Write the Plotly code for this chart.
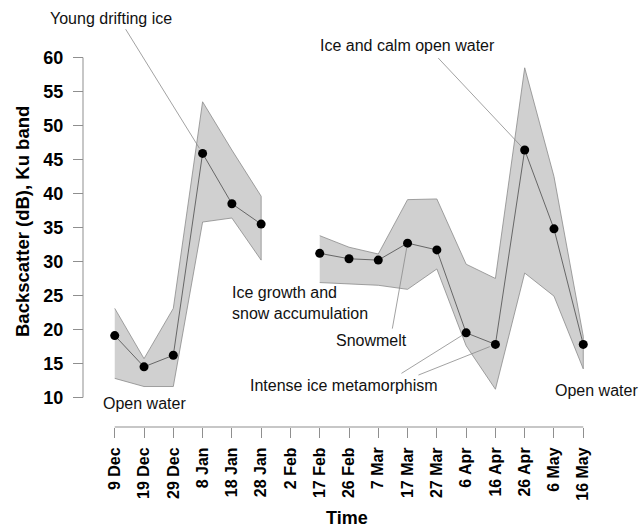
import plotly.graph_objects as go

# ---------------- data ----------------
dates = ['9 Dec', '19 Dec', '29 Dec', '8 Jan', '18 Jan', '28 Jan', '2 Feb', '17 Feb',
         '26 Feb', '7 Mar', '17 Mar', '27 Mar', '6 Apr', '16 Apr', '26 Apr', '6 May', '16 May']
mean_db = [19.1, 14.5, 16.2, 45.9, 38.5, 35.5, None, 31.2,
           30.4, 30.2, 32.7, 31.7, 19.5, 17.8, 46.4, 34.8, 17.8]
upper_db = [23.1, 15.7, 23.1, 53.5, 46.4, 39.6, None, 33.8,
            32.1, 31.1, 39.1, 39.2, 29.6, 27.5, 58.5, 42.5, 19.0]
lower_db = [12.8, 11.6, 11.6, 35.8, 36.4, 30.2, None, 26.9,
            26.7, 26.5, 25.9, 28.9, 17.6, 11.2, 28.3, 24.9, 14.2]
y_ticks = [10, 15, 20, 25, 30, 35, 40, 45, 50, 55, 60]

FONT = "Liberation Sans, Arial, sans-serif"
AXIS_COL = "#8f8f8f"

x_idx = list(range(len(dates)))

fig = go.Figure()

# ---- shaded range band (split at gaps) ----
segments = []
cur = []
for i in x_idx:
    if upper_db[i] is None:
        if cur:
            segments.append(cur)
        cur = []
    else:
        cur.append(i)
if cur:
    segments.append(cur)

for seg in segments:
    xs = seg + seg[::-1]
    ys = [upper_db[i] for i in seg] + [lower_db[i] for i in seg[::-1]]
    fig.add_trace(go.Scatter(x=xs, y=ys, fill='toself', fillcolor='#d0d0d0',
                             line=dict(color='#8a8a8a', width=0.8), mode='lines',
                             hoverinfo='skip', showlegend=False))

# ---- mean line + points ----
fig.add_trace(go.Scatter(x=x_idx, y=mean_db, mode='lines+markers',
                         line=dict(color='#5a5a5a', width=0.9),
                         marker=dict(color='black', size=9),
                         connectgaps=False, showlegend=False))

# ---- layout geometry (body margin removed by post_script) ----
W, H = 640, 528
ML, MR, MT, MB = 60, 38, 44, 101
pw = W - ML - MR
ph = H - MT - MB


def px_x(p):
    return (p - ML) / pw


def px_y(p):
    return (H - MB - p) / ph


fig.update_layout(
    width=W, height=H,
    margin=dict(l=ML, r=MR, t=MT, b=MB),
    plot_bgcolor='white', paper_bgcolor='white',
    showlegend=False,
    xaxis=dict(domain=[px_x(96), 1], range=[-0.64, 16.64], anchor='free', position=0,
               tickmode='array', tickvals=x_idx, ticktext=dates, tickangle=-90,
               ticks='outside', ticklen=10, tickcolor=AXIS_COL, tickwidth=1,
               showgrid=False, zeroline=False, showline=False, automargin=False,
               ticklabelstandoff=3,
               tickfont=dict(family=FONT, size=16, color='black', weight='bold')),
    yaxis=dict(domain=[px_y(411), 1], range=[8, 62], anchor='free', position=px_x(83),
               tickmode='array', tickvals=y_ticks,
               ticks='outside', ticklen=10, tickcolor=AXIS_COL, tickwidth=1,
               showgrid=False, zeroline=False, showline=False, automargin=False,
               ticklabelstandoff=6,
               tickfont=dict(family=FONT, size=18, color='black', weight='bold')),
)

# axis lines spanning first to last tick (R style)
fig.add_shape(type='line', xref='paper', yref='y', x0=px_x(83), x1=px_x(83),
              y0=min(y_ticks), y1=max(y_ticks), line=dict(color=AXIS_COL, width=1))
fig.add_shape(type='line', xref='x', yref='paper', x0=x_idx[0], x1=x_idx[-1],
              y0=0, y1=0, line=dict(color=AXIS_COL, width=1))

# ---- axis titles ----
fig.add_annotation(text='Backscatter (dB), Ku band', textangle=-90, xref='paper', yref='paper',
                   x=px_x(22), y=px_y(222), xanchor='center', yanchor='middle', showarrow=False,
                   font=dict(family=FONT, size=18.5, color='black', weight='bold'))
fig.add_annotation(text='Time', xref='paper', yref='paper',
                   x=px_x(347), y=px_y(518), xanchor='center', yanchor='middle', showarrow=False,
                   font=dict(family=FONT, size=18, color='black', weight='bold'))

# ---- leader lines (tail in data coords -> point) ----
LINE_COL = '#8a8a8a'
leaders = [
    (3, 0.34, 64.4, 6),    # Young drifting ice -> 8 Jan
    (14, 11.0, 60.15, 5),  # Ice and calm open water -> 26 Apr
    (10, 9.47, 19.9, 5),   # Snowmelt -> 17 Mar
    (12, 9.74, 13.4, 5),   # Intense ice metamorphism -> 6 Apr
    (13, 10.32, 13.2, 6),  # Intense ice metamorphism -> 16 Apr
]
for idx, tx, ty, so in leaders:
    fig.add_annotation(x=idx, y=mean_db[idx], xref='x', yref='y', axref='x', ayref='y',
                       ax=tx, ay=ty, text='', showarrow=True, arrowhead=0, arrowwidth=0.8,
                       arrowcolor=LINE_COL, standoff=so)

# ---- text labels ----
labels = [
    ('Young drifting ice', 111, 18, 'center'),
    ('Ice and calm open water', 407, 45, 'center'),
    ('Ice growth and<br>snow accumulation', 230, 303, 'left'),
    ('Snowmelt', 371, 340, 'center'),
    ('Intense ice metamorphism', 344, 385, 'center'),
    ('Open water', 144, 403, 'center'),
    ('Open water', 596, 390, 'center'),
]
for txt, px, py, anc in labels:
    fig.add_annotation(text=txt, xref='paper', yref='paper', x=px_x(px), y=px_y(py),
                       xanchor=anc, yanchor='middle', align='left', showarrow=False,
                       font=dict(family=FONT, size=16, color='#111111'))

fig.write_html("out.html", config={'displayModeBar': False},
               post_script="document.body.style.margin='0';document.body.style.overflow='hidden';")
